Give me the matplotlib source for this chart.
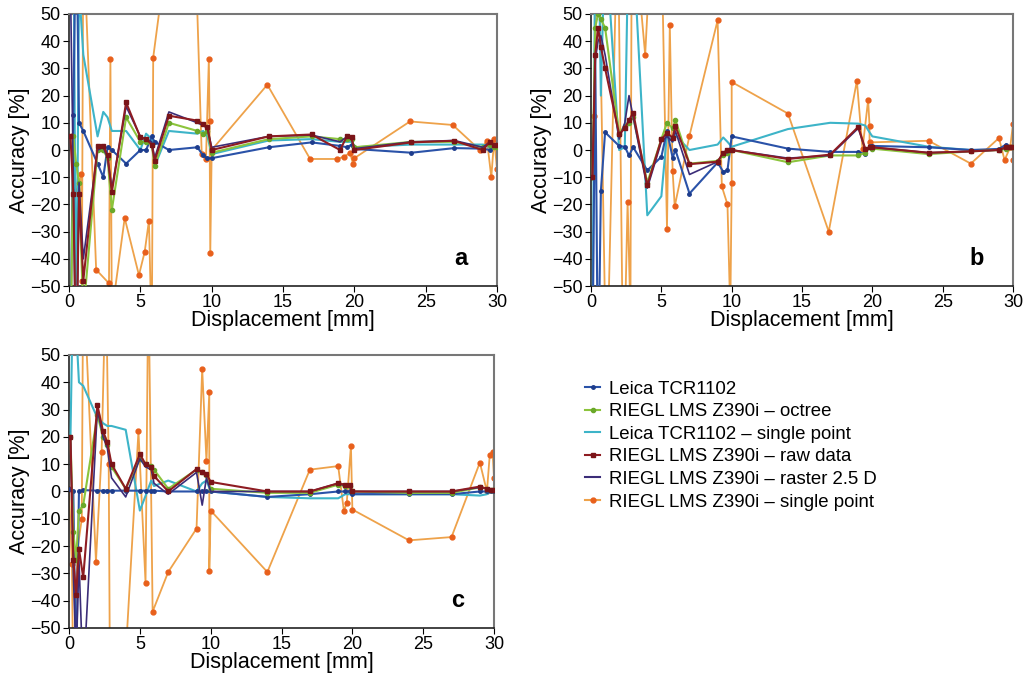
import matplotlib.pyplot as plt
from matplotlib.lines import Line2D

plt.rcParams['font.family'] = ['Liberation Sans', 'DejaVu Sans']

# common displacement steps [mm] for the five smoothed series
X = [0.1, 0.3, 0.5, 0.7, 1.0, 2.0, 2.4, 2.7, 3.0, 4.0, 5.0, 5.4, 5.8, 6.0, 7.0,
     9.0, 9.4, 9.7, 10.0, 14.0, 17.0, 19.0, 19.5, 19.8, 20.0, 24.0, 27.0, 29.0,
     29.5, 29.8, 30.0]

# ---- panel a ----
leica_a = [-70, 13, 90, 10, 7, -5, -10, 1, 0, -5, 0, 0, 5, 3, 0, 1, -2, -3, -3,
           1, 2.8, 1.5, 1, 2, 0.4, -1, 0.7, 0.5, 0, 1, 1]
octree_a = [-80, 5, -5, -12, -60, 0, 0, -3, -22, 12, 3, 3, 2, -6, 10, 7, 6, 7, -1,
            4, 5, 4, 4, 4, 1, 3, 3, 1, 2, 1, 1]
leica_sp_a = [120, 100, -80, 60, 35, 5, 14, 12, 7, 7, 0, 6, 4, -6, 7, 6, 7, 5, -1.5,
              3.5, 4, 3, 3, 3, 1, 2, 2, 2, 1, 1, 1]
raw_a = [5, -16, -80, -16, -48, 1.6, 1.6, -2, -15.5, 17.5, 4.6, 4, 2, -4, 12.6,
         10.8, 9.5, 8.3, 0, 5, 5.7, 0, 5.3, 4.6, 0, 2.8, 3.4, 0, 3, 2, 2]
raster_a = [60, -10, -90, -12, -40, 0, 1, -3, -14, 16, 5, 4, 3, -3, 14, 10, 9, 8,
            1, 5, 5.5, 3, 5, 4, 0.5, 3, 3.5, 1, 3, 2, 2]
sp_x_a = [0.2, 0.5, 0.85, 0.9, 1.0, 1.9, 2.8, 2.9, 3.0, 3.9, 4.9, 5.3, 5.6, 5.8,
          5.9, 6.5, 8.95, 9.3, 9.6, 9.8, 9.85, 9.9, 10.0, 13.9, 16.9, 18.8, 19.3,
          19.7, 19.9, 20.0, 23.9, 26.9, 28.8, 29.3, 29.6, 29.8, 30.0]
sp_y_a = [5, -15, -9, -48, 80, -44, -49, 33.5, -60, -25, -46, -37.5, -26, -70, 34,
          58, 58, -1.5, -3.3, 33.4, 10.8, -38, 0, 24, -3.3, -3.3, -2.4, -1, -5, -3,
          10.5, 9.2, 0, 3.4, -10, 4, -7]

# ---- panel b ----
leica_b = [-80, 35, -90, -15, 6.5, 1.5, 1.2, -2, 1, -7.5, -2.5, 7, -2.8, 0, -16,
           -4.6, -8, -7.5, 5, 0.5, -0.7, -0.7, -1.5, 1.5, 1.5, 1, 0, 0.4, 2, 1, 1]
octree_b = [-10, 45, 50, 48, 45, 6, 9, 10, 12, -12, 4, 10, 8, 11, -5, -4, -2, -1, 0,
            -4.5, -2, -2, -1, 1, 0.5, -1.5, -0.5, 0, 0.5, 1, 1]
leica_sp_b = [-70, 80, 90, 20, 80, 0, 1, 90, 75, -24, -17, 6, 3, 5.4, 0, 2, 4.6, 3,
              1.2, 7.7, 10, 9.7, 9, 6.5, 5, 1.2, 0, 0, 0.5, 1, 1]
raw_b = [-10, 35, 45, 38, 30, 5.8, 8, 11, 13.7, -13, 3.9, 6.3, 4.5, 8.8, -5.2,
         -4.3, -1, 0, 0, -3.3, -1.7, 8.5, 0.4, 1, 1, -1, -0.5, 0, 1, 1, 1]
raster_b = [-10, 33, 40, 42, 35, 4, 10, 20, 12, -14, 3, 5, 3, 7, -9, -4.3, -1, -1,
            0, -3, -2, 8, 0, 1, 1, -1, -0.5, 0, 1, 1, 1]
sp_x_b = [0.0, 0.2, 0.5, 1.1, 1.9, 2.3, 2.6, 2.8, 2.9, 3.85, 4.3, 5.0, 5.4, 5.6,
          5.8, 5.95, 7.0, 9.0, 9.3, 9.7, 9.9, 10.0, 10.0, 14.0, 16.9, 18.9, 19.3,
          19.7, 19.8, 19.8, 24.0, 27.0, 29.0, 29.4, 29.8, 30.0, 30.0]
sp_y_b = [-10, 12.5, 90, -90, 90, -90, -19, -60, 90, 35, 80, 80, -29, 46, -7.7,
          -20.7, 5.3, 47.7, -13.4, -20, -60, -12, 25, 13.4, -30, 25.4, 0.4, 18.4,
          9, 2.8, 3.4, -5, 4.4, -3.7, 1, 9.6, -3.7]

# ---- panel c ----
leica_c = [1, 0, -70, 0, 0.5, 0.3, 0.3, 0.3, 0.3, 0.3, 0.3, 0.3, 0.3, 0.3, 0, 0, 0,
           0, 0, -2, -1, 0, 0, 0, -1, -1, -1, 0, 0, 0, 0]
octree_c = [20, -15, -25, -7, -5, 28, 20, 17, 9, 1, 12, 10, 9.5, 8, 1, 8, 7, 6, 1,
            -0.5, -0.5, 2.5, 2, 2, 0, -0.5, -0.5, 1.5, 1, 0.5, 0.5]
leica_sp_c = [20, 80, 60, 40, 38.7, 27, 25, 24, 24, 22.6, -7, -1.6, 4, 2, 4, 0, 3,
              4, 0, -2, -2.5, -2.5, -1, -1, -1, -1, -1, -1.5, -1, 0, 0]
raw_c = [20, -25, -38, -21, -31.5, 31.7, 22, 18, 10, 1, 13.7, 10, 8.8, 5.7, 0, 8.2,
         7, 6.4, 3.5, 0, 0, 3, 2.5, 2.5, 0, 0, 0, 1.8, 1, 0.5, 0.5]
raster_c = [20, -30, -60, -25, -70, 30, 20, 16, 5, -2, 12, 9, 8, 3, -1, 7, -5, 5, 0,
            0, 0, 3, 2, 2, 0, 0, 0, 1.5, 1, 0.5, 0.5]
sp_x_c = [0.0, 0.2, 0.3, 0.6, 0.9, 1.0, 1.9, 2.3, 2.6, 2.8, 2.9, 4.0, 4.9, 5.4,
          5.6, 5.9, 7.0, 9.0, 9.4, 9.7, 9.9, 9.9, 10.0, 14.0, 17.0, 19.0, 19.4,
          19.6, 19.9, 20.0, 24.0, 27.0, 29.0, 29.5, 29.7, 29.9, 30.0]
sp_y_c = [1, -26.6, -70, -21, -10, 80, -25.7, 14.3, 80, 10, -80, -60, 22, -33.4, 80,
          -44, -29.5, -13.6, 44.9, 11.2, 36.3, -29, -7, -29.5, 8, 9.3, -7, -4.4,
          16.7, -6.6, -17.9, -16.7, 10.6, 0, 13.5, 14.5, 5]

LABELS = ["Leica TCR1102", "RIEGL LMS Z390i \u2013 octree",
          "Leica TCR1102 \u2013 single point", "RIEGL LMS Z390i \u2013 raw data",
          "RIEGL LMS Z390i \u2013 raster 2.5 D", "RIEGL LMS Z390i \u2013 single point"]

# line colour, marker, marker colour, marker size
STYLES = [
    ("#2a52a8", "o", "#1d3c8c", 2.5),
    ("#8cc43c", "o", "#6aa82a", 3.0),
    ("#3db4c8", None, None, 0),
    ("#8e1c22", "s", "#7a1418", 3.5),
    ("#3b2d78", None, None, 0),
    ("#eea24a", "o", "#e8601c", 3.5),
]

fig = plt.figure(figsize=(10.32, 6.82), dpi=100)
ax_a = fig.add_axes([0.0669, 0.5806, 0.4147, 0.3989])
ax_b = fig.add_axes([0.5727, 0.5806, 0.4089, 0.3989])
ax_c = fig.add_axes([0.0669, 0.0792, 0.4118, 0.4003])

panels = [
    (ax_a, "a", [leica_a, octree_a, leica_sp_a, raw_a, raster_a], sp_x_a, sp_y_a),
    (ax_b, "b", [leica_b, octree_b, leica_sp_b, raw_b, raster_b], sp_x_b, sp_y_b),
    (ax_c, "c", [leica_c, octree_c, leica_sp_c, raw_c, raster_c], sp_x_c, sp_y_c),
]

for ax, tag, series, spx, spy in panels:
    # orange single point drawn first so the others sit on top
    lc, mk, mc, ms = STYLES[5]
    ax.plot(spx, spy, color=lc, lw=1.3, marker=mk, ms=ms, mfc=mc, mec=mc, zorder=2)
    for i in [2, 0, 1, 4, 3]:
        lc, mk, mc, ms = STYLES[i]
        ax.plot(X, series[i], color=lc, lw=1.5 if i != 4 else 1.2,
                marker=mk, ms=ms, mfc=mc, mec=mc, zorder=3)
    ax.set_xlim(0, 30)
    ax.set_ylim(-50, 50)
    ax.set_xticks([0, 5, 10, 15, 20, 25, 30])
    ax.set_yticks(range(-50, 51, 10))
    ax.set_yticklabels([str(v).replace("-", "\u2212") for v in range(-50, 51, 10)])
    ax.tick_params(labelsize=13, length=4, direction="out", pad=2)
    ax.set_xlabel("Displacement [mm]", fontsize=15.5, labelpad=-1)
    ax.set_ylabel("Accuracy [%]", fontsize=15.5, labelpad=0)
    for side in ["top", "right"]:
        ax.spines[side].set_color("#777777")
        ax.spines[side].set_linewidth(1.5)
    for side in ["left", "bottom"]:
        ax.spines[side].set_color("#222222")
        ax.spines[side].set_linewidth(1.2)
    ax.text(0.93, 0.06, tag, transform=ax.transAxes, fontsize=17,
            fontweight="bold", ha="right", va="bottom")

handles = []
for lc, mk, mc, ms in STYLES:
    handles.append(Line2D([], [], color=lc, lw=1.5, marker=mk, ms=ms,
                          mfc=mc, mec=mc))
fig.legend(handles, LABELS, loc="upper left", bbox_to_anchor=(0.56, 0.453),
           frameon=False, fontsize=13.4, handlelength=0.8, handletextpad=0.45,
           labelspacing=0.3, borderaxespad=0)

fig.savefig("out.png", dpi=100, facecolor="white")
